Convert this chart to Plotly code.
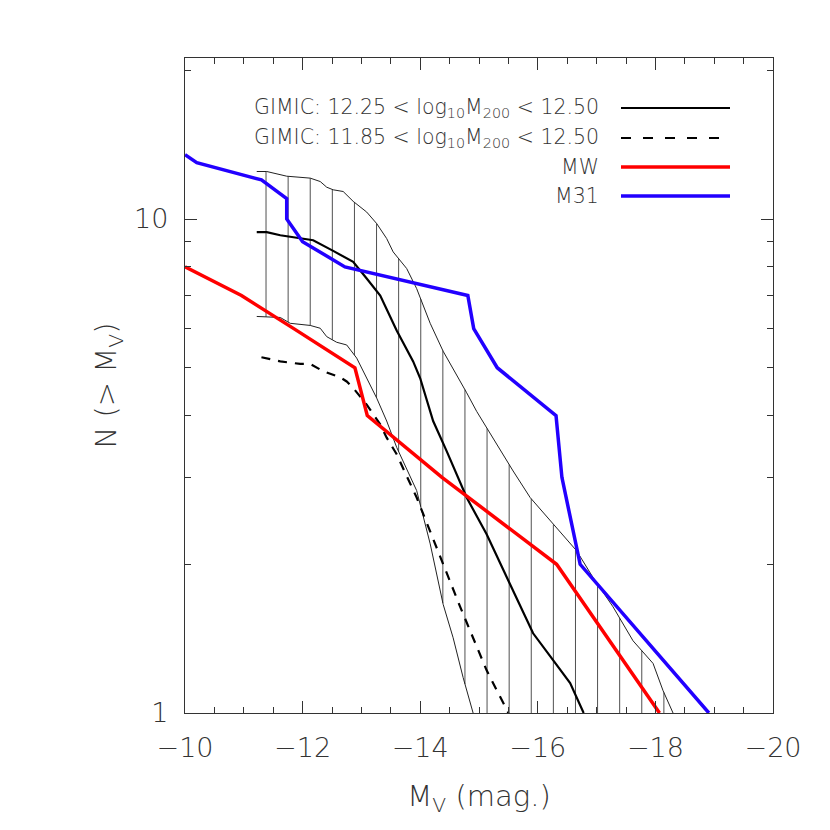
import numpy as np
import plotly.graph_objects as go

# ---------------- data ----------------
m31_x = [-10.0, -10.2, -11.3, -11.73, -11.73, -12.0, -12.72, -14.81, -14.91, -15.31, -16.31, -16.41, -16.72, -18.91]
m31_y = [13.5, 13.0, 12.0, 11.0, 10.0, 9.0, 8.0, 7.0, 6.0, 5.0, 4.0, 3.0, 2.0, 1.0]

mw_x = [-10.0, -10.96, -11.85, -12.89, -13.10, -14.37, -16.32, -18.07]
mw_y = [8.0, 7.0, 6.0, 5.0, 4.0, 3.0, 2.0, 1.0]

gimic_hi_x = [-11.22, -11.39, -11.62, -12.18, -12.52, -12.86, -13.09, -13.32, -13.60, -13.88, -14.00,
              -14.22, -14.45, -14.79, -15.13, -15.47, -15.92, -16.26, -16.55, -16.78]
gimic_hi_y = [9.41, 9.41, 9.27, 9.06, 8.62, 8.19, 7.58, 7.0, 5.95, 5.15, 4.76,
              3.90, 3.39, 2.73, 2.30, 1.88, 1.45, 1.28, 1.15, 1.0]

gimic_lo_x = [-11.30, -11.62, -11.96, -12.13, -12.35, -12.64, -12.75, -12.86, -13.09, -13.32, -13.43,
              -13.60, -13.94, -14.34, -14.68, -15.13, -15.50]
gimic_lo_y = [5.25, 5.15, 5.09, 5.09, 4.92, 4.78, 4.69, 4.55, 4.21, 3.84, 3.61,
              3.34, 2.73, 2.07, 1.64, 1.22, 1.0]

band_up_x = [-11.22, -11.39, -11.73, -11.90, -12.13, -12.30, -12.41, -12.52, -12.69, -12.86, -13.09,
             -13.26, -13.43, -13.54, -13.77, -13.94, -14.17, -14.39, -14.62, -14.79, -14.96, -15.30,
             -15.58, -15.87, -16.26, -16.55, -16.66, -16.94, -17.28, -17.62, -17.96, -18.13, -18.30]
band_up_y = [12.48, 12.48, 12.21, 12.15, 12.1, 11.91, 11.6, 11.46, 11.37, 10.86, 10.33,
             9.79, 9.13, 8.58, 7.94, 7.23, 6.15, 5.40, 4.84, 4.45, 4.08, 3.50,
             3.09, 2.73, 2.41, 2.20, 2.13, 1.88, 1.64, 1.40, 1.26, 1.11, 1.0]

band_lo_x = [-11.22, -11.62, -11.79, -12.13, -12.30, -12.41, -12.58, -12.75, -12.92, -13.09, -13.26,
             -13.43, -13.60, -13.94, -14.17, -14.39, -14.56, -14.73, -14.90]
band_lo_y = [6.35, 6.32, 6.15, 6.09, 6.01, 5.78, 5.63, 5.56, 5.23, 4.76, 4.34,
             3.90, 3.45, 2.82, 2.20, 1.66, 1.42, 1.18, 1.0]

x_ticks = [-10, -12, -14, -16, -18, -20]
y_ticks = [1, 10]
y_minor = [2, 3, 4, 5, 6, 7, 8, 9, 20]

legend_labels = [
    "GIMIC: 12.25 &lt; log<sub>10</sub>M<sub>200</sub> &lt; 12.50",
    "GIMIC: 11.85 &lt; log<sub>10</sub>M<sub>200</sub> &lt; 12.50",
    "MW",
    "M31",
]

# ---------------- style ----------------
FONT = "DejaVu Sans"
FW = 200
BLUE = "#2200ff"
RED = "#ff0000"
TXT = "#333333"

fig = go.Figure()

# hatch lines (vertical) inside the band
hatch_x = np.arange(-11.378, -18.4, -0.3759)
ux = np.array(band_up_x)[::-1]
uy = np.log10(np.array(band_up_y))[::-1]
lx = np.array(band_lo_x)[::-1]
ly = np.log10(np.array(band_lo_y))[::-1]
hx, hy = [], []
for xv in hatch_x:
    top = 10 ** np.interp(xv, ux, uy)
    if xv < band_lo_x[-1]:
        bot = 0.9
    else:
        bot = 10 ** np.interp(xv, lx, ly)
    hx += [xv, xv, None]
    hy += [bot, top, None]
fig.add_trace(go.Scatter(x=hx, y=hy, mode="lines", line=dict(color="#505050", width=1),
                         hoverinfo="skip", showlegend=False))

# band boundaries
fig.add_trace(go.Scatter(x=band_up_x, y=band_up_y, mode="lines",
                         line=dict(color="#222222", width=1), showlegend=False))
fig.add_trace(go.Scatter(x=band_lo_x, y=band_lo_y, mode="lines",
                         line=dict(color="#222222", width=1), showlegend=False))

# GIMIC curves
fig.add_trace(go.Scatter(x=gimic_lo_x, y=gimic_lo_y, mode="lines",
                         line=dict(color="black", width=2.2, dash="9px,8px"), showlegend=False))
fig.add_trace(go.Scatter(x=gimic_hi_x, y=gimic_hi_y, mode="lines",
                         line=dict(color="black", width=2.2), showlegend=False))

# observations
fig.add_trace(go.Scatter(x=mw_x, y=mw_y, mode="lines",
                         line=dict(color=RED, width=3.5), showlegend=False))
fig.add_trace(go.Scatter(x=m31_x, y=m31_y, mode="lines",
                         line=dict(color=BLUE, width=3.5), showlegend=False))

# page has an 8px body margin: compensate so the plot area lands where the reference has it
OFF = 8
W = H = 830
L, T = 185 - OFF, 58 - OFF
PW, PH = 588, 655
R, B = W - L - PW, H - T - PH

# custom legend: text on the left, line sample on the right (pixel rows of the reference)
leg_y = [108, 138, 167, 196]
leg_styles = [
    dict(color="black", width=2.2),
    dict(color="black", width=2.2, dash="10px,12px"),
    dict(color=RED, width=3.5),
    dict(color=BLUE, width=3.5),
]
def px2paper(px, py):
    return (px - OFF - L) / PW, 1 - (py - OFF - T) / PH

for lab, yy, st in zip(legend_labels, leg_y, leg_styles):
    x0, y0 = px2paper(621, yy)
    x1, _ = px2paper(730, yy)
    xt, _ = px2paper(601, yy)
    fig.add_shape(type="line", xref="paper", yref="paper", x0=x0, x1=x1, y0=y0, y1=y0, line=st)
    fig.add_annotation(xref="paper", yref="paper", x=xt, y=y0, text=lab, showarrow=False,
                       xanchor="right", yanchor="middle",
                       font=dict(family=FONT, size=20.5, color=TXT, weight=FW))

axis_common = dict(
    showline=True, linecolor="#333333", linewidth=1.3, mirror="ticks",
    ticks="inside", ticklen=12, tickwidth=1, tickcolor="#333333",
    showgrid=False, zeroline=False,
    tickfont=dict(family=FONT, size=27, color=TXT, weight=FW),
)

fig.update_layout(
    width=W, height=H,
    margin=dict(l=L, r=R, t=T, b=B),
    paper_bgcolor="white", plot_bgcolor="white",
    showlegend=False,
    xaxis=dict(
        range=[-10, -20], tickvals=x_ticks,
        minor=dict(dtick=0.5, tick0=-10, ticks="inside", ticklen=6, tickcolor="#333333", showgrid=False),
        title=dict(text="M<sub>V</sub> (mag.)", font=dict(family=FONT, size=29, color=TXT, weight=FW),
                   standoff=24),
        ticklabelstandoff=10,
        **axis_common,
    ),
    yaxis=dict(
        type="log", range=[0, 1.326], tickvals=y_ticks, ticktext=["1", "10"],
        minor=dict(tickvals=y_minor, ticks="inside", ticklen=6, tickcolor="#333333", showgrid=False),
        title=dict(text="N (&gt; M<sub>V</sub>)", font=dict(family=FONT, size=29, color=TXT, weight=FW),
                   standoff=8),
        ticklabelstandoff=10,
        **axis_common,
    ),
)

fig.write_html("out.html")
